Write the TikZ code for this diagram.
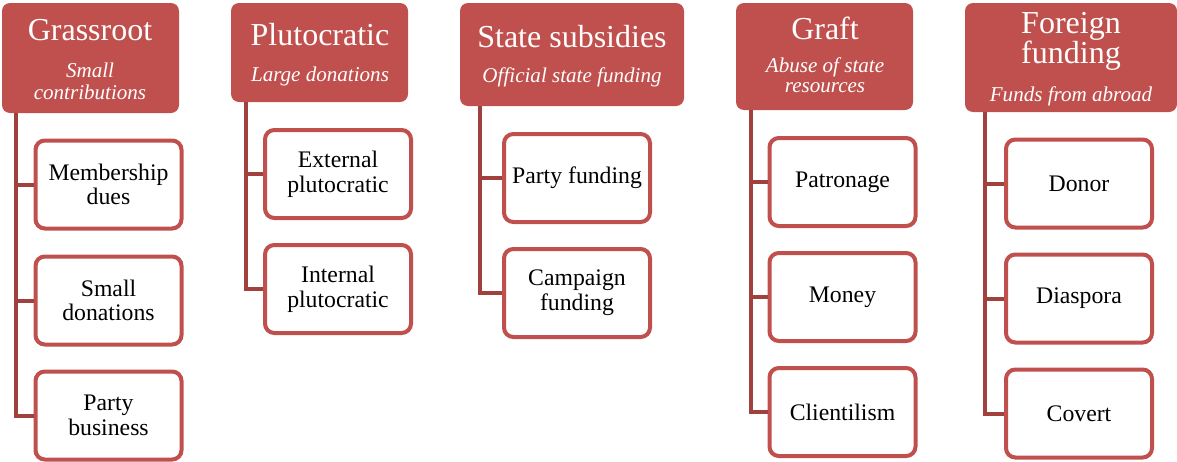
\documentclass[tikz,border=0pt]{standalone}
\usepackage{fontspec}
\setmainfont{Liberation Serif}
\definecolor{accent}{HTML}{C0504D}
\definecolor{linec}{HTML}{A0413E}
\begin{document}
\begin{tikzpicture}[x=0.75pt,y=-0.75pt,
  head/.style={fill=accent, draw=none, rounded corners=6pt, inner sep=0},
  title/.style={text=white, inner sep=0, font=\fontsize{24}{26}\selectfont},
  sub/.style={text=white, inner sep=0, font=\fontsize{15.8}{16.5}\selectfont\itshape},
  child/.style={draw=accent, line width=3pt, rounded corners=7pt, fill=white,
    minimum width=109.5pt, minimum height=66pt, align=center, inner sep=0,
    font=\fontsize{17.8}{18.5}\selectfont},
  conn/.style={draw=linec, line width=3pt}]
\useasboundingbox (0,0) rectangle (1177,461);
% headers
\node[head, minimum width=132.75pt, minimum height=82.5pt] (h1) at (90.5,58) {};
\node[head, minimum width=132.75pt, minimum height=74.25pt] (h2) at (319.5,52.5) {};
\node[head, minimum width=168pt, minimum height=77.25pt] (h3) at (572,54.5) {};
\node[head, minimum width=132.75pt, minimum height=80.25pt] (h4) at (824.5,56.5) {};
\node[head, minimum width=159pt, minimum height=81.75pt] (h5) at (1071,57.5) {};
% header texts
\node[title] (t1) at (90,30) {Grassroot};
\node[sub] (s1a) at (90,70) {Small};
\node[sub] (s1b) at (90,92) {contributions};
\node[title] (t2) at (320,35) {Plutocratic};
\node[sub] (s2) at (320,76) {Large donations};
\node[title] (t3) at (572,37) {State subsidies};
\node[sub] (s3) at (572,77) {Official state funding};
\node[title] (t4) at (825,28) {Graft};
\node[sub] (s4a) at (825,67) {Abuse of state};
\node[sub] (s4b) at (825,88) {resources};
\node[title] (t5a) at (1071,26) {Foreign};
\node[title] (t5b) at (1071,56) {funding};
\node[sub] (s5) at (1071,96) {Funds from abroad};
% connector tops
\coordinate (l1) at (16,113);
\coordinate (l2) at (246,102);
\coordinate (l3) at (480,106);
\coordinate (l4) at (751,110);
\coordinate (l5) at (985,112);
% children
\node[child] (c11) at (108.5,184.5) {Membership\\dues};
\node[child] (c12) at (108.5,300.5) {Small\\donations};
\node[child] (c13) at (108.5,415.5) {Party\\business};
\node[child] (c21) at (338,174) {External\\plutocratic};
\node[child] (c22) at (338,289) {Internal\\plutocratic};
\node[child] (c31) at (577,178) {Party funding};
\node[child] (c32) at (577,293) {Campaign\\funding};
\node[child] (c41) at (842.5,182) {Patronage};
\node[child] (c42) at (842.5,297) {Money};
\node[child] (c43) at (842.5,412) {Clientilism};
\node[child] (c51) at (1079,183.5) {Donor};
\node[child] (c52) at (1079,298.5) {Diaspora};
\node[child] (c53) at (1079,413.5) {Covert};
% connectors
\draw[conn] (l1) |- (c13.west);
\draw[conn] (l1 |- c11.west) -- (c11.west);
\draw[conn] (l1 |- c12.west) -- (c12.west);
\draw[conn] (l2) |- (c22.west);
\draw[conn] (l2 |- c21.west) -- (c21.west);
\draw[conn] (l3) |- (c32.west);
\draw[conn] (l3 |- c31.west) -- (c31.west);
\draw[conn] (l4) |- (c43.west);
\draw[conn] (l4 |- c41.west) -- (c41.west);
\draw[conn] (l4 |- c42.west) -- (c42.west);
\draw[conn] (l5) |- (c53.west);
\draw[conn] (l5 |- c51.west) -- (c51.west);
\draw[conn] (l5 |- c52.west) -- (c52.west);
\end{tikzpicture}
\end{document}
